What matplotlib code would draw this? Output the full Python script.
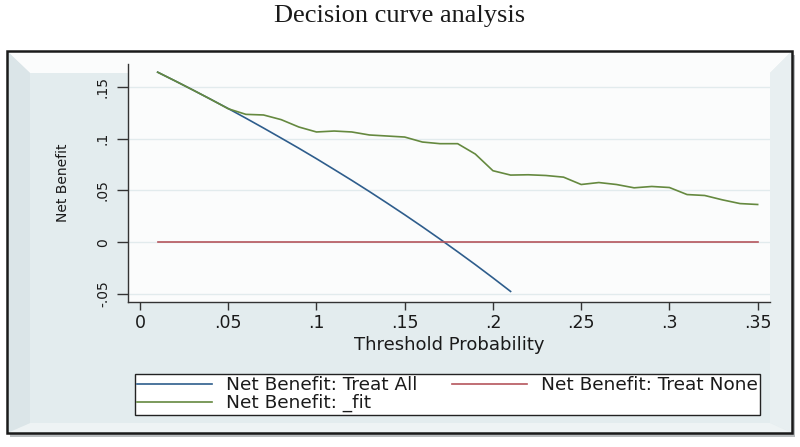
import matplotlib.pyplot as plt
from matplotlib.patches import Polygon, Rectangle

# Threshold probabilities (x) and net benefit values
threshold = [0.01, 0.02, 0.03, 0.04, 0.05, 0.06, 0.07, 0.08, 0.09, 0.10,
             0.11, 0.12, 0.13, 0.14, 0.15, 0.16, 0.17, 0.18, 0.19, 0.20,
             0.21, 0.22, 0.23, 0.24, 0.25, 0.26, 0.27, 0.28, 0.29, 0.30,
             0.31, 0.32, 0.33, 0.34, 0.35]
threshold_all = threshold[:21]

nb_all = [0.1641, 0.1556, 0.1469, 0.1380, 0.1290, 0.1197, 0.1102, 0.1005,
          0.0907, 0.0806, 0.0702, 0.0597, 0.0489, 0.0378, 0.0265, 0.0149,
          0.0030, -0.0092, -0.0216, -0.0344, -0.0475]
nb_none = [0.0] * 35
nb_fit = [0.1641, 0.1556, 0.1469, 0.1380, 0.1288, 0.1234, 0.1228, 0.1183,
          0.1112, 0.1064, 0.1073, 0.1064, 0.1035, 0.1025, 0.1015, 0.0967,
          0.0951, 0.0951, 0.0851, 0.0690, 0.0648, 0.0651, 0.0644, 0.0628,
          0.0557, 0.0576, 0.0557, 0.0525, 0.0538, 0.0528, 0.0460, 0.0451,
          0.0409, 0.0373, 0.0364]

xticks = [0, 0.05, 0.1, 0.15, 0.2, 0.25, 0.3, 0.35]
xtick_labels = ["0", ".05", ".1", ".15", ".2", ".25", ".3", ".35"]
yticks = [-0.05, 0, 0.05, 0.1, 0.15]
ytick_labels = ["-.05", "0", ".05", ".1", ".15"]

W, H = 800, 447
fig = plt.figure(figsize=(8, 4.47), dpi=100, facecolor="white")


def px(x, y):
    # pixel position (from top-left) -> figure fraction
    return (x / W, 1 - y / H)


def frame_poly(points, color):
    fig.patches.append(Polygon([px(*p) for p in points], closed=True,
                               transform=fig.transFigure, facecolor=color,
                               edgecolor="none", zorder=-5))


# Stata style bevelled frame
fig.patches.append(Rectangle(px(10, 437), 785 / W, 382 / H, transform=fig.transFigure,
                             facecolor="#b9bdbf", edgecolor="none", zorder=-6))
frame_poly([(7, 51), (792, 51), (792, 433), (7, 433)], "#e3ecee")
frame_poly([(7, 51), (792, 51), (770, 73), (30, 73)], "#fbfcfc")
frame_poly([(792, 51), (792, 433), (770, 423), (770, 73)], "#e8eff1")
frame_poly([(7, 433), (792, 433), (770, 423), (30, 423)], "#eef3f4")
frame_poly([(7, 51), (30, 73), (30, 423), (7, 433)], "#dbe5e8")
fig.patches.append(Rectangle(px(7, 433), 785 / W, 382 / H, transform=fig.transFigure,
                             facecolor="none", edgecolor="#1a1a1a", lw=1.8, zorder=-4))

ax = fig.add_axes([128 / W, 145 / H, 642 / W, 238 / H])
ax.set_facecolor("#fbfcfc")

l_all, = ax.plot(threshold_all, nb_all, color="#2e5d8c", lw=1.2,
                 label="Net Benefit: Treat All")
l_none, = ax.plot(threshold, nb_none, color="#b5555c", lw=1.2,
                  label="Net Benefit: Treat None")
l_fit, = ax.plot(threshold, nb_fit, color="#65893f", lw=1.2,
                 label="Net Benefit: _fit")

ax.set_xlim(-0.0068, 0.357)
ax.set_ylim(-0.0577, 0.172)
ax.set_xticks(xticks)
ax.set_xticklabels(xtick_labels)
ax.set_yticks(yticks)
ax.set_yticklabels(ytick_labels, rotation=90, va="center")

for side in ["top", "right"]:
    ax.spines[side].set_visible(False)
for side in ["left", "bottom"]:
    ax.spines[side].set_color("#333333")
    ax.spines[side].set_linewidth(1.0)

ax.tick_params(axis="x", length=6, width=1, color="#333333", labelsize=12.5,
               labelcolor="#1a1a1a", pad=3)
ax.tick_params(axis="y", length=8, width=1, color="#333333", labelsize=10,
               labelcolor="#1a1a1a", pad=5)
ax.yaxis.grid(True, color="#e2ebed", lw=1)
ax.set_axisbelow(True)

ax.set_xlabel("Threshold Probability", fontsize=13, color="#1a1a1a")
ax.xaxis.set_label_coords(0.5, (102 - 145) / 238)
ax.xaxis.label.set_va("center")
ax.set_ylabel("Net Benefit", fontsize=10, color="#1a1a1a")
ax.yaxis.set_label_coords((63 - 128) / 642, 0.5)
ax.yaxis.label.set_va("center")

# column-first order: Treat All / _fit in column 1, Treat None in column 2
leg = ax.legend(handles=[l_all, l_fit, l_none], loc="upper left",
                bbox_to_anchor=px(135, 374), bbox_transform=fig.transFigure,
                ncol=2, fontsize=13.3, handlelength=4.05, handletextpad=0.75,
                columnspacing=1.9, borderpad=0.12, labelspacing=0.0,
                borderaxespad=0, fancybox=False, framealpha=1, edgecolor="#222222")
leg.get_frame().set_linewidth(1.0)
for t in leg.get_texts():
    t.set_color("#1a1a1a")

fig.text(0.5, 1 - 22 / H, "Decision curve analysis", family="Liberation Serif",
         fontsize=19, ha="center", va="baseline", color="#1a1a1a")

fig.savefig("out.png", dpi=100, facecolor="white")
